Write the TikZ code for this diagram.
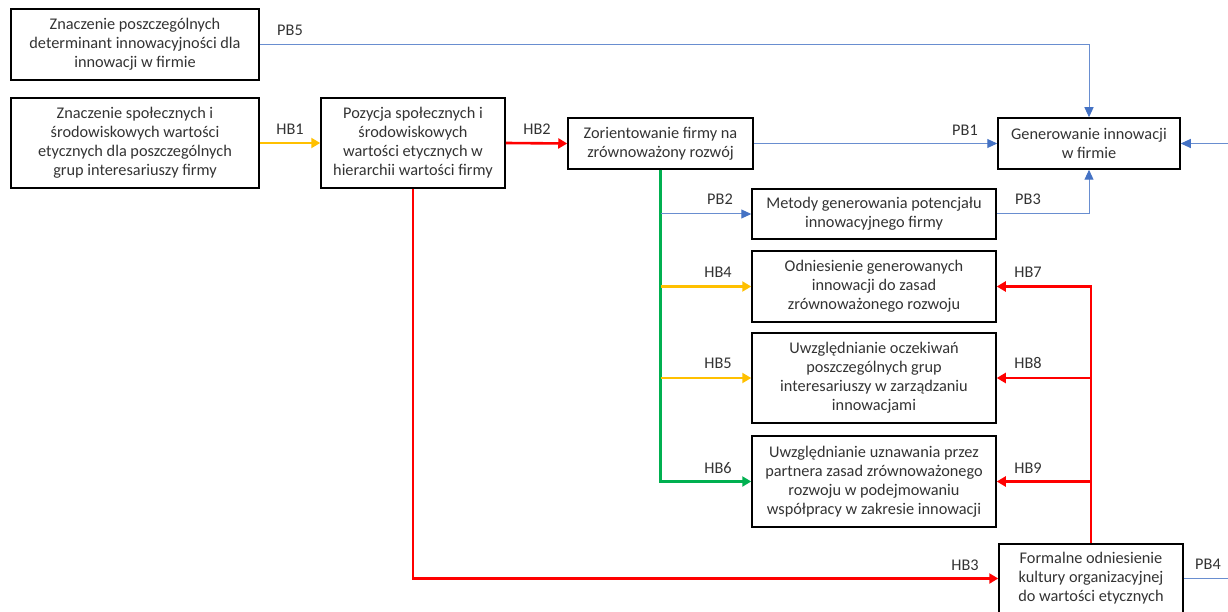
\documentclass[tikz,border=0pt]{standalone}
\usepackage{fontspec}
\setmainfont{Carlito}
\usetikzlibrary{arrows.meta}
\definecolor{cblue}{HTML}{4472C4}
\definecolor{cred}{HTML}{FF0000}
\definecolor{corange}{HTML}{FFC000}
\definecolor{cgreen}{HTML}{00B050}
\tikzset{
  box/.style={draw=black,line width=1.5pt,align=center,inner sep=0pt,
    font=\fontsize{16.3}{19}\selectfont,text=black!80},
  lbl/.style={font=\fontsize{16.3}{17}\selectfont,text=black!80,inner sep=0pt},
  bl/.style={draw=cblue!80,line width=1pt,-{Triangle[length=10pt,width=9pt,fill=cblue,color=cblue]}},
  blplain/.style={draw=cblue!80,line width=1pt},
  thk/.style={line width=2.6pt,-{Triangle[length=9pt,width=10pt]}},
}
\begin{document}
\begin{tikzpicture}[x=1pt,y=-1pt]
\useasboundingbox (0,0) rectangle (1228,612);
\begin{scope}
\clip (0,0) rectangle (1228,612);
\node[box,minimum width=248pt,minimum height=71pt] (A) at (135,44.5)
  {Znaczenie poszczególnych\\determinant innowacyjności dla\\innowacji w firmie};
\node[box,minimum width=248pt,minimum height=90pt] (B) at (135,143)
  {Znaczenie społecznych i\\środowiskowych wartości\\etycznych dla poszczególnych\\grup interesariuszy firmy};
\node[box,minimum width=184pt,minimum height=90pt] (C) at (413,143)
  {Pozycja społecznych i\\środowiskowych\\wartości etycznych w\\hierarchii wartości firmy};
\node[box,minimum width=185pt,minimum height=51pt] (D) at (660.5,143.5)
  {Zorientowanie firmy na\\zrównoważony rozwój};
\node[box,minimum width=182pt,minimum height=51pt] (E) at (1089,143.5)
  {Generowanie innowacji\\w firmie};
\node[box,minimum width=244pt,minimum height=50pt] (F) at (874,214)
  {Metody generowania potencjału\\innowacyjnego firmy};
\node[box,minimum width=244pt,minimum height=71pt] (G) at (874,286.5)
  {Odniesienie generowanych\\innowacji do zasad\\zrównoważonego rozwoju};
\node[box,minimum width=244pt,minimum height=90pt] (H) at (874,378)
  {Uwzględnianie oczekiwań\\poszczególnych grup\\interesariuszy w zarządzaniu\\innowacjami};
\node[box,minimum width=244pt,minimum height=91pt] (I) at (874,481.5)
  {Uwzględnianie uznawania przez\\partnera zasad zrównoważonego\\rozwoju w podejmowaniu\\współpracy w zakresie innowacji};
\node[box,minimum width=184pt,minimum height=69pt] (J) at (1091,578.5)
  {Formalne odniesienie\\kultury organizacyjnej\\do wartości etycznych};

\coordinate (rin) at (1230,143.5);
\coordinate (pout) at (1230,578.5);

% blue connectors
\draw[bl] (A.east) -| (E.north);
\draw[bl] (D.east) -- (E.west);
\draw[bl] (rin) -- (E.east);
\draw[bl] (F.east) -| (E.south);
\draw[blplain] (J.east) -- (pout);
% green trunk
\draw[thk,cgreen] (D.south) |- (I.west);
\draw[bl] (D.south |- F.west) -- (F.west);
\draw[thk,corange] (D.south |- G.west) -- (G.west);
\draw[thk,corange] (D.south |- H.west) -- (H.west);
% left chain
\draw[thk,corange] (B.east) -- (C.west);
\draw[thk,cred] (C.east) -- (D.west);
\draw[thk,cred] (C.south) |- (J.west);
% red trunk
\draw[thk,cred] (J.north) |- (G.east);
\draw[thk,cred] (J.north |- H.east) -- (H.east);
\draw[thk,cred] (J.north |- I.east) -- (I.east);

% labels
\node[lbl] (lPB5) at (290,30) {PB5};
\node[lbl] (lHB1) at (290,129) {HB1};
\node[lbl] (lHB2) at (537,129) {HB2};
\node[lbl] (lPB1) at (965,130) {PB1};
\node[lbl] (lPB2) at (720,199) {PB2};
\node[lbl] (lPB3) at (1028,199) {PB3};
\node[lbl] (lHB4) at (718,272) {HB4};
\node[lbl] (lHB5) at (718,363) {HB5};
\node[lbl] (lHB6) at (718,468) {HB6};
\node[lbl] (lHB7) at (1028,272) {HB7};
\node[lbl] (lHB8) at (1028,363) {HB8};
\node[lbl] (lHB9) at (1028,468) {HB9};
\node[lbl] (lHB3) at (965,565) {HB3};
\node[lbl] (lPB4) at (1208,564) {PB4};
\end{scope}
\end{tikzpicture}
\end{document}
